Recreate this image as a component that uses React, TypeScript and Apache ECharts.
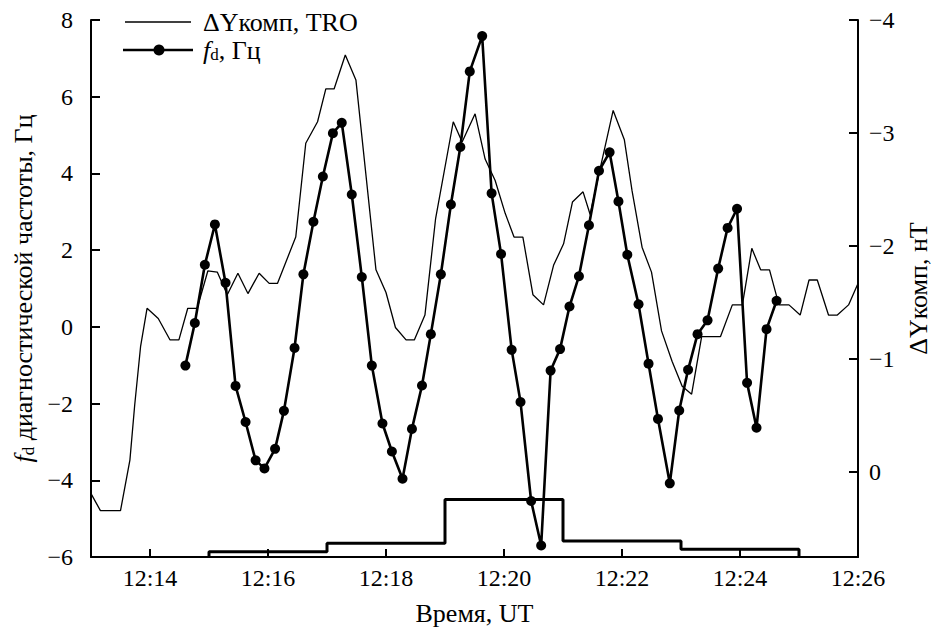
import React, { useEffect, useRef } from 'react';
import * as echarts from 'echarts';

// Time in minutes after 12:00 UT
const dyTimes = [
  13.0, 13.16, 13.5, 13.66, 13.74, 13.84, 13.95, 14.14, 14.34, 14.49,
  14.64, 14.8, 14.98, 15.14, 15.31, 15.49, 15.66, 15.85, 16.02, 16.16,
  16.47, 16.64, 16.84, 16.98, 17.12, 17.31, 17.49, 17.83, 18.0, 18.16,
  18.34, 18.48, 18.66, 18.84, 19.14, 19.29, 19.51, 19.68, 19.85, 20.02,
  20.17, 20.32, 20.49, 20.67, 20.84, 21.01, 21.16, 21.34, 21.46, 21.64,
  21.85, 22.04, 22.17, 22.34, 22.5, 22.67, 22.85, 23.02, 23.18, 23.35,
  23.67, 23.87, 24.04, 24.2, 24.35, 24.5, 24.66, 24.83, 25.02, 25.17,
  25.31, 25.5, 25.65, 25.84, 26.0,
];
// ΔYкомп, nT (right axis)
const dyValues = [
  0.19, 0.34, 0.34, -0.11, -0.59, -1.11, -1.45, -1.36, -1.17, -1.17,
  -1.45, -1.45, -1.78, -1.77, -1.57, -1.76, -1.58, -1.76, -1.67, -1.67,
  -2.08, -2.91, -3.1, -3.39, -3.39, -3.69, -3.47, -1.79, -1.59, -1.28,
  -1.17, -1.17, -1.39, -2.24, -3.1, -2.92, -3.17, -2.77, -2.58, -2.29,
  -2.08, -2.08, -1.57, -1.48, -1.83, -2.02, -2.39, -2.48, -2.28, -2.71,
  -3.2, -2.94, -2.49, -1.99, -1.77, -1.25, -0.98, -0.76, -0.69, -1.2,
  -1.2, -1.48, -1.48, -1.98, -1.79, -1.79, -1.48, -1.48, -1.39, -1.7,
  -1.7, -1.39, -1.39, -1.48, -1.67,
];

const fdTimes = [
  14.6, 14.76, 14.93, 15.1, 15.28, 15.45, 15.62, 15.79, 15.94, 16.12,
  16.27, 16.45, 16.6, 16.77, 16.93, 17.1, 17.25, 17.42, 17.59, 17.76,
  17.94, 18.1, 18.28, 18.44, 18.61, 18.76, 18.93, 19.1, 19.26, 19.42,
  19.63, 19.79, 19.95, 20.13, 20.28, 20.46, 20.63, 20.79, 20.95, 21.11,
  21.27, 21.44, 21.61, 21.79, 21.94, 22.09, 22.28, 22.45, 22.61, 22.81,
  22.97, 23.12, 23.28, 23.45, 23.63, 23.79, 23.95, 24.12, 24.28, 24.45,
  24.62,
];
// f_d, Hz (left axis)
const fdValues = [
  -1.01, 0.1, 1.62, 2.67, 1.15, -1.54, -2.48, -3.48, -3.69, -3.18,
  -2.19, -0.55, 1.37, 2.74, 3.92, 5.05, 5.32, 3.45, 1.3, -1.01,
  -2.52, -3.25, -3.96, -2.66, -1.53, -0.19, 1.37, 3.19, 4.69, 6.66,
  7.58, 3.48, 1.9, -0.6, -1.96, -4.54, -5.7, -1.14, -0.58, 0.53,
  1.32, 2.65, 4.07, 4.55, 3.27, 1.88, 0.59, -0.96, -2.4, -4.08,
  -2.18, -1.12, -0.19, 0.17, 1.52, 2.58, 3.08, -1.46, -2.63, -0.06,
  0.68,
];

// Step index drawn at the bottom (left-axis units)
const stepTimes = [15, 17, 19, 21, 23, 25];
const stepLevels = [-5.86, -5.64, -4.5, -5.58, -5.8];
const stepBase = -6;

const xTicks = [14, 16, 18, 20, 22, 24, 26];
const rightTicks = [-4, -3, -2, -1, 0];

const FONT = 'Liberation Serif';

const fmtNum = (v: number) => (v < 0 ? '\u2212' + Math.abs(v) : String(v));
const fmtTime = (v: number) => '12:' + String(Math.round(v)).padStart(2, '0');

export default function App() {
  const ref = useRef<HTMLDivElement>(null);

  useEffect(() => {
    if (!ref.current) return;
    const chart = echarts.init(ref.current, null, { renderer: 'svg' });

    const dyData = dyTimes.map((t, i) => [t, dyValues[i]]);
    const fdData = fdTimes.map((t, i) => [t, fdValues[i]]);
    const stepData: number[][] = [[stepTimes[0], stepBase]];
    stepLevels.forEach((lv, i) => stepData.push([stepTimes[i], lv]));
    stepData.push([stepTimes[stepTimes.length - 1], stepLevels[stepLevels.length - 1]]);
    stepData.push([stepTimes[stepTimes.length - 1], stepBase]);

    const axisLine = { show: true, onZero: false, lineStyle: { color: '#000', width: 2 } };
    const labelStyle = { color: '#000', fontFamily: FONT, fontSize: 24 };

    chart.setOption({
      animation: false,
      backgroundColor: '#fff',
      textStyle: { fontFamily: FONT },
      grid: { left: 91, right: 84, top: 20, bottom: 75, containLabel: false, outerBoundsMode: 'none' },
      xAxis: {
        type: 'value',
        min: 13,
        max: 26,
        name: 'Время, UT',
        nameLocation: 'middle',
        nameGap: 43,
        nameTextStyle: { color: '#000', fontFamily: FONT, fontSize: 26 },
        axisLine,
        axisTick: { show: true, inside: true, length: 8, customValues: xTicks, lineStyle: { color: '#000', width: 2 } },
        axisLabel: { ...labelStyle, margin: 9, customValues: xTicks, formatter: fmtTime },
        splitLine: { show: false },
      },
      yAxis: [
        {
          type: 'value',
          position: 'left',
          min: -6,
          max: 8,
          interval: 2,
          name: '{i|f}{s|d} диагностической частоты, Гц',
          nameLocation: 'middle',
          nameRotate: 90,
          nameGap: 47,
          nameTextStyle: {
            color: '#000',
            fontFamily: FONT,
            fontSize: 26,
            rich: {
              i: { fontFamily: FONT, fontSize: 26, fontStyle: 'italic', color: '#000' },
              s: { fontFamily: FONT, fontSize: 17, color: '#000', verticalAlign: 'bottom', padding: [8, 0, 0, 0] },
            },
          },
          axisLine,
          axisTick: { show: true, inside: true, length: 9, lineStyle: { color: '#000', width: 2 } },
          axisLabel: { ...labelStyle, margin: 18, formatter: fmtNum },
          splitLine: { show: false },
        },
        {
          type: 'value',
          position: 'right',
          inverse: true,
          min: -4,
          max: 0.75,
          name: 'ΔYкомп, нТ',
          nameLocation: 'middle',
          nameRotate: 90,
          nameGap: 42,
          nameTextStyle: { color: '#000', fontFamily: FONT, fontSize: 26 },
          axisLine,
          axisTick: { show: true, inside: true, length: 9, customValues: rightTicks, lineStyle: { color: '#000', width: 2 } },
          axisLabel: { ...labelStyle, margin: 11, customValues: rightTicks, formatter: fmtNum },
          splitLine: { show: false },
        },
      ],
      graphic: [
        { type: 'line', shape: { x1: 125, y1: 22, x2: 191, y2: 22 }, style: { stroke: '#000', lineWidth: 1.3 } },
        {
          type: 'text', x: 203, y: 22,
          style: { text: 'ΔYкомп, TRO', fill: '#000', fontFamily: FONT, fontSize: 26, verticalAlign: 'middle' },
        },
        { type: 'line', shape: { x1: 123, y1: 50, x2: 193, y2: 50 }, style: { stroke: '#000', lineWidth: 2.6 } },
        { type: 'circle', shape: { cx: 159, cy: 50, r: 5.5 }, style: { fill: '#000' } },
        {
          type: 'text', x: 203, y: 50,
          style: {
            text: '{i|f}{s|d}, Гц',
            fill: '#000',
            fontFamily: FONT,
            fontSize: 26,
            verticalAlign: 'middle',
            rich: {
              i: { fontFamily: FONT, fontSize: 26, fontStyle: 'italic', fill: '#000' },
              s: { fontFamily: FONT, fontSize: 17, fill: '#000', verticalAlign: 'bottom', padding: [8, 0, 0, 0] },
            },
          },
        },
      ],
      series: [
        {
          name: 'ΔYкомп, TRO',
          type: 'line',
          yAxisIndex: 1,
          data: dyData,
          showSymbol: false,
          symbol: 'none',
          lineStyle: { color: '#000', width: 1.3 },
          silent: true,
        },
        {
          name: 'fd, Гц',
          type: 'line',
          yAxisIndex: 0,
          data: fdData,
          symbol: 'circle',
          symbolSize: 10,
          itemStyle: { color: '#000' },
          lineStyle: { color: '#000', width: 2.6 },
          silent: true,
        },
        {
          name: 'index',
          type: 'line',
          yAxisIndex: 0,
          step: 'end',
          data: stepData,
          symbol: 'none',
          lineStyle: { color: '#000', width: 3 },
          silent: true,
        },
      ],
    });

    return () => chart.dispose();
  }, []);

  return (
    <div
      ref={ref}
      style={{ position: 'fixed', left: 0, top: 0, width: 942, height: 632, background: '#fff' }}
    />
  );
}
